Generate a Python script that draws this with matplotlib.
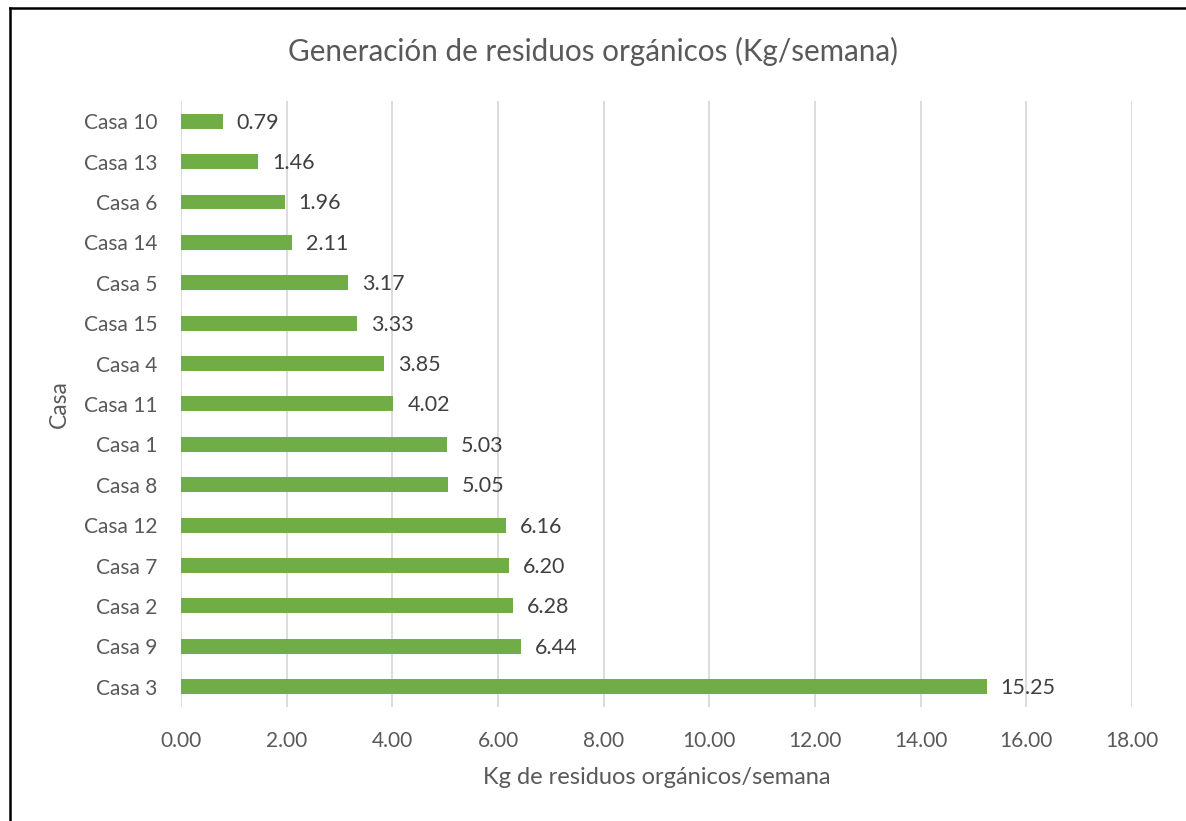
import matplotlib.pyplot as plt
from matplotlib.lines import Line2D

casas = ["Casa 10", "Casa 13", "Casa 6", "Casa 14", "Casa 5", "Casa 15", "Casa 4",
         "Casa 11", "Casa 1", "Casa 8", "Casa 12", "Casa 7", "Casa 2", "Casa 9", "Casa 3"]
kg = [0.79, 1.46, 1.96, 2.11, 3.17, 3.33, 3.85, 4.02, 5.03, 5.05, 6.16, 6.20, 6.28, 6.44, 15.25]
xticks = [0, 2, 4, 6, 8, 10, 12, 14, 16, 18]

grey = "#595959"
plt.rcParams['font.family'] = ['Lato', 'DejaVu Sans']

fig = plt.figure(figsize=(11.86, 8.21), dpi=100)
ax = fig.add_axes([0.1526, 0.1389, 0.8019, 0.7381])

pos = list(range(len(casas)))
ax.barh(pos, kg, height=0.37, color="#70AD47", zorder=3)
for y, v in zip(pos, kg):
    ax.annotate(f"{v:.2f}", (v, y), xytext=(10, -1), textcoords="offset points",
                va="center", ha="left", fontsize=15.5, color="#404040")

ax.set_xlim(0, 18)
ax.set_ylim(len(casas) - 0.5, -0.5)
ax.set_yticks(pos)
ax.set_yticklabels(casas)
ax.set_xticks(xticks)
ax.set_xticklabels([f"{t:.2f}" for t in xticks])
ax.tick_params(axis="both", length=0, labelsize=15, labelcolor=grey)
ax.tick_params(axis="y", pad=17)
ax.tick_params(axis="x", pad=17)
ax.xaxis.grid(True, color="#D9D9D9", linewidth=1.3, zorder=0)
for s in ax.spines.values():
    s.set_visible(False)

ax.set_xlabel("Kg de residuos orgánicos/semana", fontsize=17, color=grey, labelpad=12)
ax.set_ylabel("Casa", fontsize=16.5, color=grey, labelpad=10)
fig.text(0.5, 0.937, "Generación de residuos orgánicos (Kg/semana)", ha="center",
         va="center", fontsize=21.3, color=grey)

# outer border (top and left only visible in the crop)
fig.add_artist(Line2D([0.0082, 0.0082], [0, 0.9903], color="black", linewidth=1.8))
fig.add_artist(Line2D([0.0082, 1.0], [0.9903, 0.9903], color="black", linewidth=1.8))

fig.savefig("out.png", dpi=100, facecolor="white")
